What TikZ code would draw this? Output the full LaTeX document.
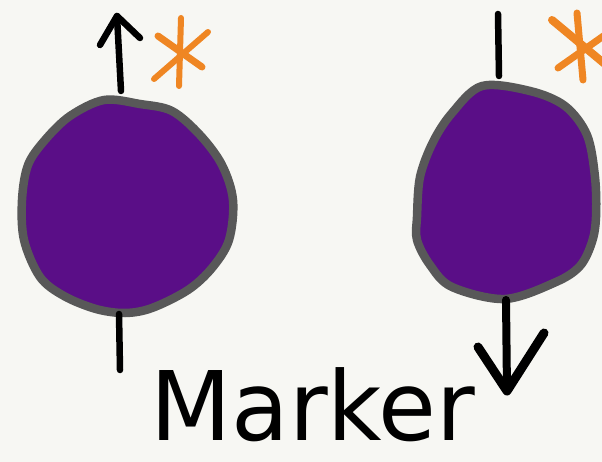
\documentclass[tikz,border=0pt]{standalone}
\usepackage{fontspec}
\newfontfamily\handfont{DejaVu Sans}
\definecolor{bgc}{RGB}{247,247,243}
\definecolor{blobfill}{RGB}{90,14,135}
\definecolor{blobline}{RGB}{88,88,88}
\definecolor{orng}{RGB}{239,134,35}
\tikzset{
  blob/.style={fill=blobfill, draw=blobline, line width=8.5pt, line join=round},
  stem/.style={draw=black, line width=6.5pt, line cap=round, line join=round},
  astr/.style={draw=orng, line width=6pt, line cap=round},
}
\begin{document}
\begin{tikzpicture}[x=1pt,y=-1pt]
\fill[bgc] (0,0) rectangle (602,462);
\useasboundingbox (0,0) rectangle (602,462);
\begin{scope}
\clip (0,0) rectangle (602,462);
% left blob
\path[blob] plot[smooth cycle, tension=0.55] coordinates {(104,100) (140,104) (172,111) (200,135) (222,165) (233,200) (229,240) (212,268) (188,290) (152,308) (125,313) (96,309) (64,296) (40,277) (24,240) (22,200) (28,165) (45,140) (70,116)};
% right blob
\path[blob] plot[smooth cycle, tension=0.55] coordinates {(482,86) (530,91) (565,106) (587,135) (595,177) (596,217) (592,242) (580,266) (556,282) (505,299) (452,287) (430,265) (417,240) (417,217) (420,177) (433,142) (452,113)};
% left up arrow
\coordinate (lb) at (121,91);
\coordinate (lt) at (117,16);
\coordinate (lal) at (100,45);
\coordinate (lar) at (140,38);
\draw[stem] (lb) -- (lt);
\draw[stem] (lal) -- (lt) -- (lar);
% left lower stem
\coordinate (ls1) at (119,314);
\coordinate (ls2) at (120,370);
\draw[stem] (ls1) -- (ls2);
% right upper stem
\coordinate (rs1) at (498,14);
\coordinate (rs2) at (499,76);
\draw[stem] (rs1) -- (rs2);
% right down arrow
\coordinate (rb) at (506,300);
\coordinate (rt) at (507,391);
\coordinate (ral) at (478,347);
\coordinate (rar) at (544,333);
\draw[stem, line width=8pt] (rb) -- (rt);
\draw[stem, line width=9pt] (ral) -- (rt) -- (rar);
% left asterisk
\draw[astr] (181,18) -- (179,86);
\draw[astr, line width=7pt] (158,36) -- (202,67);
\draw[astr] (154,79) -- (208,32);
% right asterisk
\draw[astr, line width=7pt] (577,13) -- (583,80);
\draw[astr, line width=8pt] (552,20) -- (612,70);
\draw[astr, line width=7pt] (558,68) -- (612,30);
\end{scope}
% label
\node[inner sep=0pt, text depth=0pt, anchor=base west, font=\handfont\fontsize{96}{96}\selectfont, xscale=0.98] (lbl) at (150,440) {Marker};
\end{tikzpicture}
\end{document}
